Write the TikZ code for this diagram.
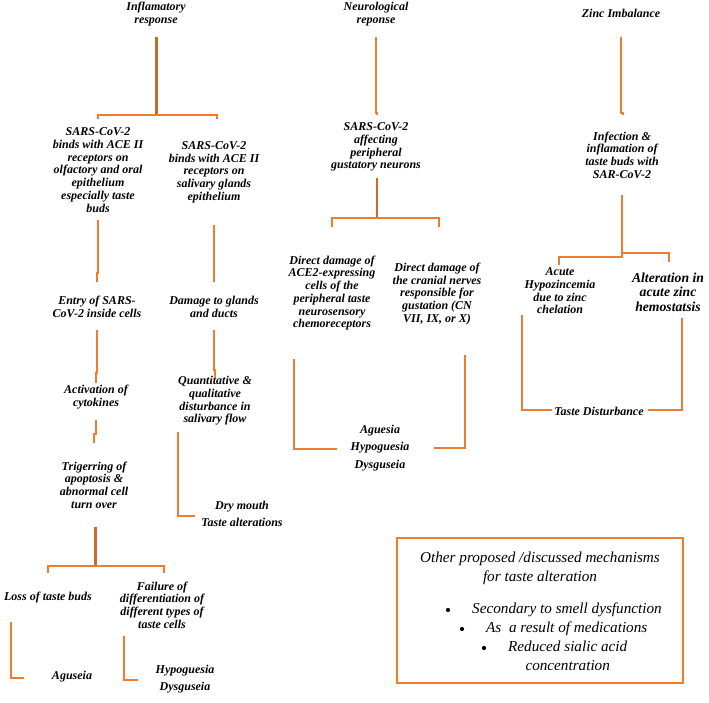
\documentclass[tikz,border=0pt]{standalone}
\usepackage{fontspec}
\setmainfont{Liberation Serif}
\definecolor{ln}{RGB}{237,125,49}
\definecolor{tk}{RGB}{200,105,45}
\begin{document}
\begin{tikzpicture}[x=1pt,y=-1pt,
  lbl/.style={align=center,inner sep=0pt,font=\fontsize{12}{12.7}\selectfont\bfseries\itshape},
  lblbig/.style={align=center,inner sep=0pt,font=\fontsize{13.7}{14.5}\selectfont\bfseries\itshape},
  lblsp/.style={align=center,inner sep=0pt,font=\fontsize{12}{17.5}\selectfont\bfseries\itshape},
  boxtxt/.style={inner sep=0pt,font=\fontsize{15.2}{19}\selectfont\itshape},
  conn/.style={draw=ln,line width=1.5pt},
  trunk/.style={draw=tk,line width=3pt},
  trunkb/.style={draw=ln!85!black,line width=2.6pt}]
\useasboundingbox (0,0) rectangle (709,702);
% column 1
\node[lbl] (infl) at (156,14) {Inflamatory\\response};
\node[lbl] (s1) at (98,170) {SARS-CoV-2\\binds with ACE II\\receptors on\\olfactory and oral\\epithelium\\especially taste\\buds};
\node[lbl] (s2) at (214,172) {SARS-CoV-2\\binds with ACE II\\receptors on\\salivary glands\\epithelium};
\node[lbl] (e1) at (97,307) {Entry of SARS-\\CoV-2 inside cells};
\node[lbl] (d1) at (214,307) {Damage to glands\\and ducts};
\node[lbl] (a1) at (96,397) {Activation of\\cytokines};
\node[lbl] (q1) at (215,401) {Quantitative \&\\qualitative\\disturbance in\\salivary flow};
\node[lbl] (t1) at (94,485) {Trigerring of\\apoptosis \&\\abnormal cell\\turn over};
\node[lblsp] (dm) at (242,514) {Dry mouth\\Taste alterations};
\node[lbl] (l1) at (48,598) {Loss of taste buds};
\node[lbl] (f1) at (162,605) {Failure of\\differentiation of\\different types of\\taste cells};
\node[lbl] (ag1) at (72,677) {Aguseia};
\node[lblsp] (hd1) at (185,679) {Hypoguesia\\Dysguseia};
% column 2
\node[lbl] (neuro) at (376,14) {Neurological\\reponse};
\node[lbl] (n1) at (376,147) {SARS-CoV-2\\affecting\\peripheral\\gustatory neurons};
\node[lbl] (dd1) at (332,293) {Direct damage of\\ACE2-expressing\\cells of the\\peripheral taste\\neurosensory\\chemoreceptors};
\node[lbl] (dd2) at (437,294) {Direct damage of\\the cranial nerves\\responsible for\\gustation (CN\\VII, IX, or X)};
\node[lblsp] (ahd) at (380,448) {Aguesia\\Hypoguesia\\Dysguseia};
% column 3
\node[lbl] (zinc) at (621,13) {Zinc Imbalance};
\node[lbl] (z1) at (622,155) {Infection \&\\inflamation of\\taste buds with\\SAR-CoV-2};
\node[lbl] (zh) at (560,291) {Acute\\Hypozincemia\\due to zinc\\chelation};
\node[lblbig] (za) at (668,292) {Alteration in\\acute zinc\\hemostatsis};
\node[lbl] (td) at (599,411) {Taste Disturbance};
% box
\node[draw=ln,line width=1.2pt,minimum width=286pt,minimum height=145pt,inner sep=0pt] (box) at (540,610.5) {};
\node[boxtxt,align=center] (bt) at (540,568) {Other proposed /discussed mechanisms\\for taste alteration};
\fill (448,610) circle (2.1) coordinate (b1);
\fill (462,629) circle (2.1) coordinate (b2);
\fill (484,648) circle (2.1) coordinate (b3);
\node[boxtxt,anchor=west] (i1) at (472,610) {Secondary to smell dysfunction};
\node[boxtxt,anchor=west] (i2) at (486,629) {As\ \ a result of medications};
\node[boxtxt,align=center,anchor=north west] (i3) at (508,641) {Reduced sialic acid\\concentration};
% connectors column 1
\draw[trunk] (infl) ++(0,23) -- ++(0,78) coordinate (j1);
\draw[conn] (s1 |- j1) ++(0,4) -- (s1 |- j1) -- ([xshift=3pt]s2 |- j1) -- ++(0,4);
\draw[conn] (s1) ++(0,50) -- ++(0,53) -- ++(-1,0) -- ++(0,9);
\draw[conn] (s2) ++(0,53) -- ++(0,57);
\draw[conn] (e1) ++(0,23) -- ++(0,43) -- ++(-1,0) -- ++(0,10);
\draw[conn] (d1) ++(0,23) -- ++(0,40) -- ++(1,0) -- ++(0,8);
\draw[conn] (a1) ++(0,23) -- ++(0,14) -- ++(-2,0) -- ++(0,9);
\draw[conn] (q1) ++(-37,31) -- ++(0,84) -- ++(17,0);
\draw[trunk] (t1) ++(1,42) -- ++(0,39) coordinate (j2);
\draw[conn] (l1 |- j2) ++(0,7) -- (l1 |- j2) -- ([xshift=2pt]f1 |- j2) -- ++(0,7);
\draw[conn] (l1) ++(-37,24) -- ++(0,56) -- ++(13,0);
\draw[conn] (f1) ++(-38,31) -- ++(0,44) -- ++(14,0);
% connectors column 2
\draw[conn] (neuro) ++(0,23) -- ++(0,76) -- ++(1,0) -- ++(0,2);
\draw[trunkb] (n1) ++(1,31) -- ++(0,40) coordinate (j3);
\draw[conn] (dd1 |- j3) ++(0,9) -- (dd1 |- j3) -- ([xshift=2pt]dd2 |- j3) -- ++(0,9);
\draw[conn] (dd1) ++(-38,66) -- ++(0,90) -- ++(43,0);
\draw[conn] (dd2) ++(28,61) -- ++(0,93) -- ++(-31,0);
% connectors column 3
\draw[conn] (zinc) ++(0,24) -- ++(0,76) -- ++(2,0) -- ++(0,2);
\draw[conn] (z1) ++(0,40) -- ++(0,62) coordinate (j4);
\draw[conn] ([xshift=-1pt]zh |- j4) ++(0,8) -- ([xshift=-1pt]zh |- j4) -- (j4) -- ++(0,-4) coordinate (j5) -- ([xshift=1pt]za |- j5) -- ++(0,9);
\draw[conn] (zh) ++(-38,24) -- ++(0,95) -- ++(30,0);
\draw[conn] (za) ++(14,26) -- ++(0,92) -- ++(-34,0);
\end{tikzpicture}
\end{document}
